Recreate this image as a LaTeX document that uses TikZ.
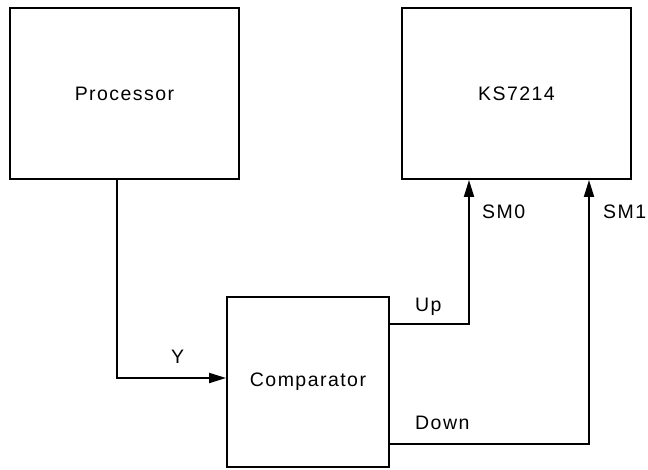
\documentclass[tikz,border=0pt]{standalone}
\usepackage{fontspec}
\setmainfont{Liberation Sans}[LetterSpace=7.5]
\usetikzlibrary{arrows.meta}

\tikzset{
  block/.style={draw,line width=1.9pt,minimum width=229pt,minimum height=171pt,inner sep=0pt},
  sig/.style={line width=1.9pt,-{Triangle[length=17pt,width=10pt]}},
  lbl/.style={inner sep=0pt,anchor=base west}
}

\begin{document}
\begin{tikzpicture}[x=1pt,y=-1pt,font=\fontsize{19.5pt}{23pt}\selectfont]
  \useasboundingbox (0,0) rectangle (648,469);
  % blocks
  \node[block] (proc) at (124.5,93.5) {Processor};
  \node[block] (ks) at (516.5,93.5) {KS7214};
  \node[block,minimum width=162pt,minimum height=170pt] (cmp) at (308,382) {Comparator};
  % signals
  \draw[sig] ([xshift=-7.5pt]proc.south) |- ([yshift=4pt]cmp.west);
  \draw[sig] ([yshift=58pt]cmp.east) -| ([xshift=-47.5pt]ks.south);
  \draw[sig] ([yshift=-62pt]cmp.east) -| ([xshift=72.5pt]ks.south);
  % labels
  \node[lbl] (lY) at (171,363) {Y};
  \node[lbl] (lUp) at (415,311) {Up};
  \node[lbl] (lDown) at (415,429) {Down};
  \node[lbl] (lSM0) at (482,218) {SM0};
  \node[lbl] (lSM1) at (603,218) {SM1};
\end{tikzpicture}
\end{document}
